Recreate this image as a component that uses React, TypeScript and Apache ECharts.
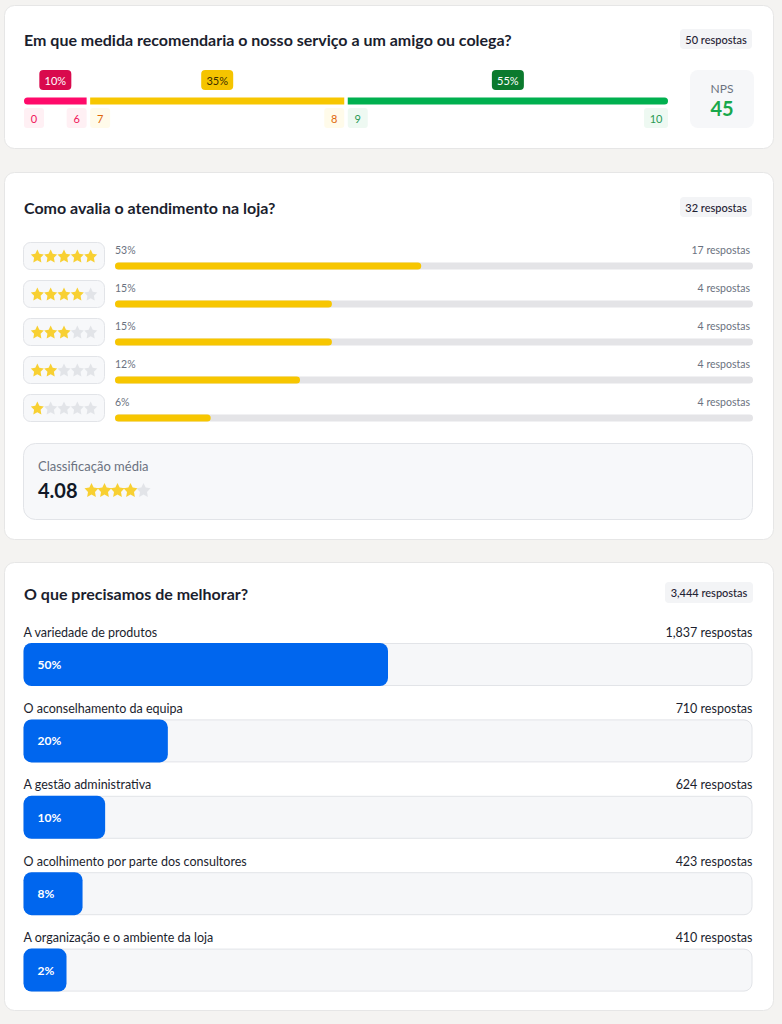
import React, { useEffect, useRef } from "react";
import * as echarts from "echarts";

const FONT = "Lato, 'Noto Sans', sans-serif";

// ---- Card 1: NPS ----
const npsTitle = "Em que medida recomendaria o nosso serviço a um amigo ou colega?";
const npsResponses = "50 respostas";
const npsShareLabels = ["10%", "35%", "55%"];
const npsBarLengths = [10, 40, 50];
const npsStartLabels = ["0", "7", "9"];
const npsEndLabels = ["6", "8", "10"];
const npsScore = 45;

// ---- Card 2: rating ----
const ratingTitle = "Como avalia o atendimento na loja?";
const ratingResponses = "32 respostas";
const ratingStars = [5, 4, 3, 2, 1];
const ratingPercentLabels = ["53%", "15%", "15%", "12%", "6%"];
const ratingFill = [48, 34, 34, 29, 15];
const ratingCounts = [17, 4, 4, 4, 4];
const avgRating = 4.08;

// ---- Card 3: improvements ----
const improveTitle = "O que precisamos de melhorar?";
const improveResponses = "3,444 respostas";
const improveItems = [
  "A variedade de produtos",
  "O aconselhamento da equipa",
  "A gestão administrativa",
  "O acolhimento por parte dos consultores",
  "A organização e o ambiente da loja",
];
const improvePercentLabels = ["50%", "20%", "10%", "8%", "2%"];
const improveFill = [50, 19.8, 11.2, 8.1, 5.9];
const improveCounts = ["1,837", "710", "624", "423", "410"];

const STAR = "path://M12 1.8l3.1 6.3 6.9 1-5 4.9 1.2 6.9L12 17.6l-6.2 3.3L7 14 2 9.1l6.9-1z";
const YELLOW = "#f7c600";
const STAR_GRAY = "#dcdfe3";

const segColors = ["#ff0a6a", "#f7c600", "#00b04f"];
const badgeColors = ["#d90a4d", "#f5c400", "#0b7a2e"];
const badgeText = ["#ffffff", "#3a2e00", "#ffffff"];
const boxColors = ["#fff0f4", "#fffbea", "#eef9f2"];
const boxText = ["#f0145a", "#e0680c", "#2a9a55"];

function badge(x: number, y: number, w: number, h: number, text: string) {
  return [
    { type: "rect", shape: { x, y, width: w, height: h, r: 4 }, style: { fill: "#f3f4f6" } },
    {
      type: "text",
      x: x + w / 2,
      y: y + h / 2,
      style: { text, fill: "#1f2233", font: `500 11px ${FONT}`, align: "center", verticalAlign: "middle" },
    },
  ];
}

function card(y: number, h: number) {
  return {
    type: "rect",
    shape: { x: 4.5, y, width: 769, height: h, r: 10 },
    style: { fill: "#ffffff", stroke: "#e6e6e6", lineWidth: 1 },
    z: -10,
  };
}

function title(y: number, text: string) {
  return {
    type: "text",
    x: 24,
    y,
    style: { text, fill: "#1b1e2e", font: `bold 16px ${FONT}`, align: "left", verticalAlign: "middle" },
  };
}

export default function App() {
  const ref = useRef<HTMLDivElement>(null);
  useEffect(() => {
    if (!ref.current) return;
    const chart = echarts.init(ref.current, undefined, { renderer: "svg" });

    // NPS segments
    let cum = 0;
    const npsData = npsBarLengths.map((len, i) => {
      const s = cum;
      cum += len;
      return [s, cum, i];
    });
    const nSeg = npsBarLengths.length;

    const starData: any[] = [];
    ratingStars.forEach((st, row) => {
      for (let k = 1; k <= 5; k++) {
        starData.push({ value: [k, row], itemStyle: { color: k <= st ? YELLOW : STAR_GRAY } });
      }
    });
    const avgStars = [1, 2, 3, 4, 5].map((k) => ({
      value: [k, 0],
      itemStyle: { color: k <= Math.round(avgRating) ? YELLOW : STAR_GRAY },
    }));

    const option: any = {
      animation: false,
      backgroundColor: "#f4f3f1",
      textStyle: { fontFamily: FONT },
      graphic: [
        card(5.5, 143),
        card(172.5, 367),
        card(562.5, 448),
        title(39, npsTitle),
        ...badge(680, 29, 72, 20, npsResponses),
        { type: "rect", shape: { x: 690, y: 70, width: 64, height: 58, r: 8 }, style: { fill: "#f6f7f9" } },
        { type: "text", x: 722, y: 88, style: { text: "NPS", fill: "#6b7280", font: `12px ${FONT}`, align: "center", verticalAlign: "middle" } },
        { type: "text", x: 722, y: 108, style: { text: String(npsScore), fill: "#19a84c", font: `bold 20px ${FONT}`, align: "center", verticalAlign: "middle" } },
        title(207, ratingTitle),
        ...badge(680, 197, 72, 20, ratingResponses),
        {
          type: "rect",
          shape: { x: 23.5, y: 443.5, width: 729, height: 76, r: 12 },
          style: { fill: "#f7f8fa", stroke: "#e2e4e8", lineWidth: 1 },
        },
        { type: "text", x: 38, y: 466, style: { text: "Classificação média", fill: "#6b7280", font: `13px ${FONT}`, align: "left", verticalAlign: "middle" } },
        { type: "text", x: 38, y: 490, style: { text: avgRating.toFixed(2), fill: "#111827", font: `bold 20px ${FONT}`, align: "left", verticalAlign: "middle" } },
        title(593, improveTitle),
        ...badge(665, 582, 88, 21, improveResponses),
      ],
      grid: [
        { left: 24, top: 97, width: 644, height: 8 },
        { left: 115, top: 247, width: 638, height: 190 },
        { left: 24, top: 237, width: 80, height: 190 },
        { left: 85, top: 483, width: 65, height: 14 },
        { left: 23.5, top: 626.3, width: 729, height: 382 },
      ],
      xAxis: [
        { gridIndex: 0, type: "value", min: 0, max: 100, show: false },
        { gridIndex: 1, type: "value", min: 0, max: 100, show: false },
        { gridIndex: 2, type: "value", min: 0, max: 6, show: false },
        { gridIndex: 3, type: "value", min: 0.5, max: 5.5, show: false },
        { gridIndex: 4, type: "value", min: 0, max: 100, show: false },
      ],
      yAxis: [
        { gridIndex: 0, type: "category", data: ["nps"], show: false },
        { gridIndex: 1, type: "category", data: ratingStars.map(String), inverse: true, show: false },
        { gridIndex: 2, type: "category", data: ratingStars.map(String), inverse: true, show: false },
        { gridIndex: 3, type: "category", data: ["avg"], show: false },
        { gridIndex: 4, type: "category", data: improveItems, inverse: true, show: false },
      ],
      series: [
        {
          type: "custom",
          xAxisIndex: 0,
          yAxisIndex: 0,
          data: npsData,
          renderItem: (params: any, api: any) => {
            const i = params.dataIndex;
            const p0 = api.coord([api.value(0), 0]);
            const p1 = api.coord([api.value(1), 0]);
            const x0 = p0[0] + (i > 0 ? 1.75 : 0);
            const x1 = p1[0] - (i < nSeg - 1 ? 1.75 : 0);
            const cy = p0[1];
            const cx = (x0 + x1) / 2;
            const r = i === 0 ? [4, 0, 0, 4] : i === nSeg - 1 ? [0, 4, 4, 0] : 0;
            const sl = npsStartLabels[i];
            const el = npsEndLabels[i];
            const w0 = Math.max(20, sl.length * 7 + 10);
            const w1 = Math.max(20, el.length * 7 + 10);
            return {
              type: "group",
              children: [
                { type: "rect", shape: { x: x0, y: cy - 3.5, width: x1 - x0, height: 7, r }, style: { fill: segColors[i] } },
                { type: "rect", shape: { x: cx - 16, y: cy - 31, width: 32, height: 20, r: 4 }, style: { fill: badgeColors[i] } },
                {
                  type: "text",
                  x: cx,
                  y: cy - 21,
                  style: { text: npsShareLabels[i], fill: badgeText[i], font: `11px ${FONT}`, align: "center", verticalAlign: "middle" },
                },
                { type: "rect", shape: { x: x0, y: cy + 7, width: w0, height: 20, r: 3 }, style: { fill: boxColors[i] } },
                {
                  type: "text",
                  x: x0 + w0 / 2,
                  y: cy + 17,
                  style: { text: sl, fill: boxText[i], font: `11px ${FONT}`, align: "center", verticalAlign: "middle" },
                },
                { type: "rect", shape: { x: x1 - w1, y: cy + 7, width: w1, height: 20, r: 3 }, style: { fill: boxColors[i] } },
                {
                  type: "text",
                  x: x1 - w1 / 2,
                  y: cy + 17,
                  style: { text: el, fill: boxText[i], font: `11px ${FONT}`, align: "center", verticalAlign: "middle" },
                },
              ],
            };
          },
        },
        {
          type: "bar",
          xAxisIndex: 1,
          yAxisIndex: 1,
          data: ratingCounts.map(() => 100),
          barWidth: 7,
          barGap: "-100%",
          itemStyle: { color: "#e4e4e7", borderRadius: 4 },
          label: {
            show: true,
            position: ["100%", -13],
            align: "right",
            verticalAlign: "middle",
            offset: [-3, 0],
            color: "#6b7280",
            fontSize: 10.5,
            formatter: (p: any) => `${ratingCounts[p.dataIndex]} respostas`,
          },
          silent: true,
        },
        {
          type: "bar",
          xAxisIndex: 1,
          yAxisIndex: 1,
          data: ratingFill,
          barWidth: 7,
          barGap: "-100%",
          itemStyle: { color: YELLOW, borderRadius: 4 },
          label: {
            show: true,
            position: [0, -13],
            align: "left",
            verticalAlign: "middle",
            color: "#6b7280",
            fontSize: 10.5,
            formatter: (p: any) => ratingPercentLabels[p.dataIndex],
          },
          silent: true,
        },
        {
          type: "custom",
          xAxisIndex: 2,
          yAxisIndex: 2,
          data: ratingStars.map((_, i) => [0, i]),
          z: 1,
          renderItem: (params: any, api: any) => {
            const a = api.coord([0, api.value(1)]);
            const b = api.coord([6, api.value(1)]);
            return {
              type: "rect",
              shape: { x: a[0] - 0.5, y: a[1] - 13.5, width: b[0] - a[0] + 1, height: 27, r: 7 },
              style: { fill: "#f7f8fa", stroke: "#e2e4e8", lineWidth: 1 },
            };
          },
        },
        {
          type: "scatter",
          xAxisIndex: 2,
          yAxisIndex: 2,
          symbol: STAR,
          symbolSize: 13,
          data: starData,
          z: 3,
          silent: true,
        },
        {
          type: "scatter",
          xAxisIndex: 3,
          yAxisIndex: 3,
          symbol: STAR,
          symbolSize: 14,
          data: avgStars,
          silent: true,
        },
        {
          type: "bar",
          xAxisIndex: 4,
          yAxisIndex: 4,
          data: improveItems.map(() => 100),
          barWidth: 43,
          barGap: "-100%",
          itemStyle: { color: "#f6f7f9", borderColor: "#e2e4e8", borderWidth: 1, borderRadius: 8 },
          label: {
            show: true,
            position: [0, -11],
            align: "left",
            verticalAlign: "middle",
            color: "#1b1e2e",
            fontSize: 12.5,
            formatter: (p: any) => improveItems[p.dataIndex],
          },
          silent: true,
        },
        {
          type: "bar",
          xAxisIndex: 4,
          yAxisIndex: 4,
          data: improveFill,
          barWidth: 43,
          barGap: "-100%",
          itemStyle: { color: "#0066ee", borderRadius: 8 },
          label: {
            show: true,
            position: "insideLeft",
            distance: 14,
            color: "#ffffff",
            fontWeight: "bold",
            fontSize: 12,
            formatter: (p: any) => improvePercentLabels[p.dataIndex],
          },
          silent: true,
        },
        {
          type: "bar",
          xAxisIndex: 4,
          yAxisIndex: 4,
          data: improveItems.map(() => 100),
          barWidth: 43,
          barGap: "-100%",
          itemStyle: { color: "transparent" },
          label: {
            show: true,
            position: ["100%", -11],
            align: "right",
            verticalAlign: "middle",
            color: "#1b1e2e",
            fontSize: 12.5,
            formatter: (p: any) => `${improveCounts[p.dataIndex]} respostas`,
          },
          silent: true,
        },
      ],
    };
    chart.setOption(option);
    return () => chart.dispose();
  }, []);
  return (
    <div
      ref={ref}
      style={{ position: "absolute", left: 0, top: 0, width: 782, height: 1024 }}
    />
  );
}
